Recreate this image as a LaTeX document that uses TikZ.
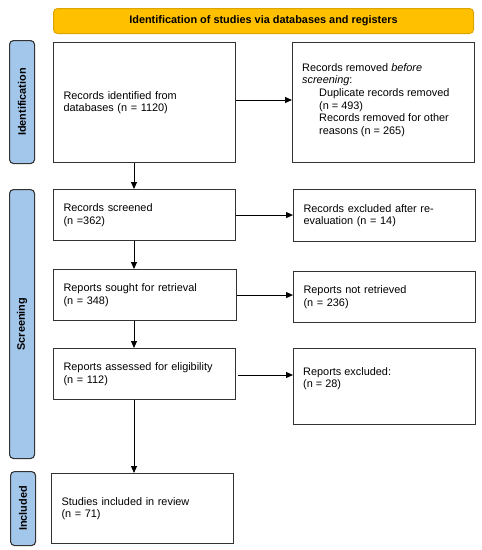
\documentclass[tikz,border=0pt]{standalone}
\usepackage{fontspec}
\setmainfont{Liberation Sans}
\usetikzlibrary{arrows.meta}
\definecolor{bannerfill}{HTML}{FFC000}
\definecolor{bannerline}{HTML}{DDA400}
\definecolor{sidefill}{HTML}{A3C7EB}
\definecolor{boxline}{HTML}{333333}
\begin{document}
\begin{tikzpicture}[x=1pt,y=-1pt,
  txt/.style={font=\fontsize{10.9}{12.7}\selectfont},
  box/.style={draw=boxline, line width=1.1pt, rectangle, anchor=north west,
    inner xsep=10pt, inner ysep=0pt, text width=162pt, txt, align=left},
  sidebar/.style={draw=boxline, line width=1.1pt, fill=sidefill, rounded corners=4pt,
    anchor=north west, inner sep=0pt},
  sidelabel/.style={font=\fontsize{10.9}{12.7}\selectfont\bfseries, rotate=90},
  arr/.style={line width=1pt, draw=black, -{Triangle[length=7pt,width=6pt]}}]
\useasboundingbox (0,0) rectangle (482,550);
% banner
\node[draw=bannerline, line width=1pt, fill=bannerfill, rounded corners=4pt, anchor=north west,
  minimum width=420pt, minimum height=25pt, inner sep=0pt,
  font=\fontsize{10.9}{12.7}\selectfont\bfseries] (banner) at (53,8)
  {Identification of studies via databases and registers};
% side bars
\node[sidebar, minimum width=25pt, minimum height=123pt] (sid) at (9,40) {};
\node[sidelabel] (sidl) at (sid.center) {Identification};
\node[sidebar, minimum width=25pt, minimum height=269pt] (sscr) at (9,189) {};
\node[sidelabel] (sscrl) at (sscr.center) {Screening};
\node[sidebar, minimum width=25pt, minimum height=74pt] (sinc) at (10,471) {};
\node[sidelabel] (sincl) at (sinc.center) {Included};
% left column
\node[box, minimum width=182pt, minimum height=120pt] (b1) at (53,42)
  {Records identified from\\databases (n = 1120)};
\node[box, minimum width=182pt, minimum height=51pt] (b3) at (53,189)
  {Records screened\\(n =362)};
\node[box, minimum width=183pt, minimum height=51pt, text width=163pt] (b5) at (53,269)
  {Reports sought for retrieval\\(n = 348)};
\node[box, minimum width=182pt, minimum height=51pt] (b7) at (53,348)
  {Reports assessed for eligibility\\(n = 112)};
\node[box, minimum width=182pt, minimum height=70pt] (b9) at (51,473)
  {Studies included in review\\(n = 71)};
% right column
\node[box, minimum width=182pt, minimum height=120pt] (b2) at (292,42) {};
\node[txt, anchor=north west, align=left, inner sep=0pt] (t2) at (302,63)
  {Records removed \textit{before}\\\textit{screening}:\\
   \hspace*{17pt}Duplicate records removed\\\hspace*{17pt}(n = 493)\\
   \hspace*{17pt}Records removed for other\\\hspace*{17pt}reasons (n = 265)};
\node[box, minimum width=182pt, minimum height=52pt] (b4) at (293,189)
  {Records excluded after re-\\evaluation (n = 14)};
\node[box, minimum width=182pt, minimum height=51pt] (b6) at (293,271)
  {Reports not retrieved\\(n = 236)};
\node[box, minimum width=182pt, minimum height=76pt] (b8) at (293,348) {};
\node[txt, anchor=north west, align=left, inner sep=0pt] (t8) at (303,367)
  {Reports excluded:\\(n = 28)};
% connectors
\draw[arr] (b1.east |- 0,100) -- (b2.west |- 0,100);
\draw[arr] (b3.east) -- (b3.east -| b4.west);
\draw[arr] (b5.east) -- (b5.east -| b6.west);
\draw[arr] ([xshift=2pt]b7.east |- 0,375) -- (b8.west |- 0,375);
\draw[arr] (b1.south -| 134,0) -- (b3.north -| 134,0);
\draw[arr] (b3.south -| 134,0) -- (b5.north -| 134,0);
\draw[arr] (b5.south -| 134,0) -- (b7.north -| 134,0);
\draw[arr] (b7.south -| 134,0) -- (b9.north -| 134,0);
\end{tikzpicture}
\end{document}
